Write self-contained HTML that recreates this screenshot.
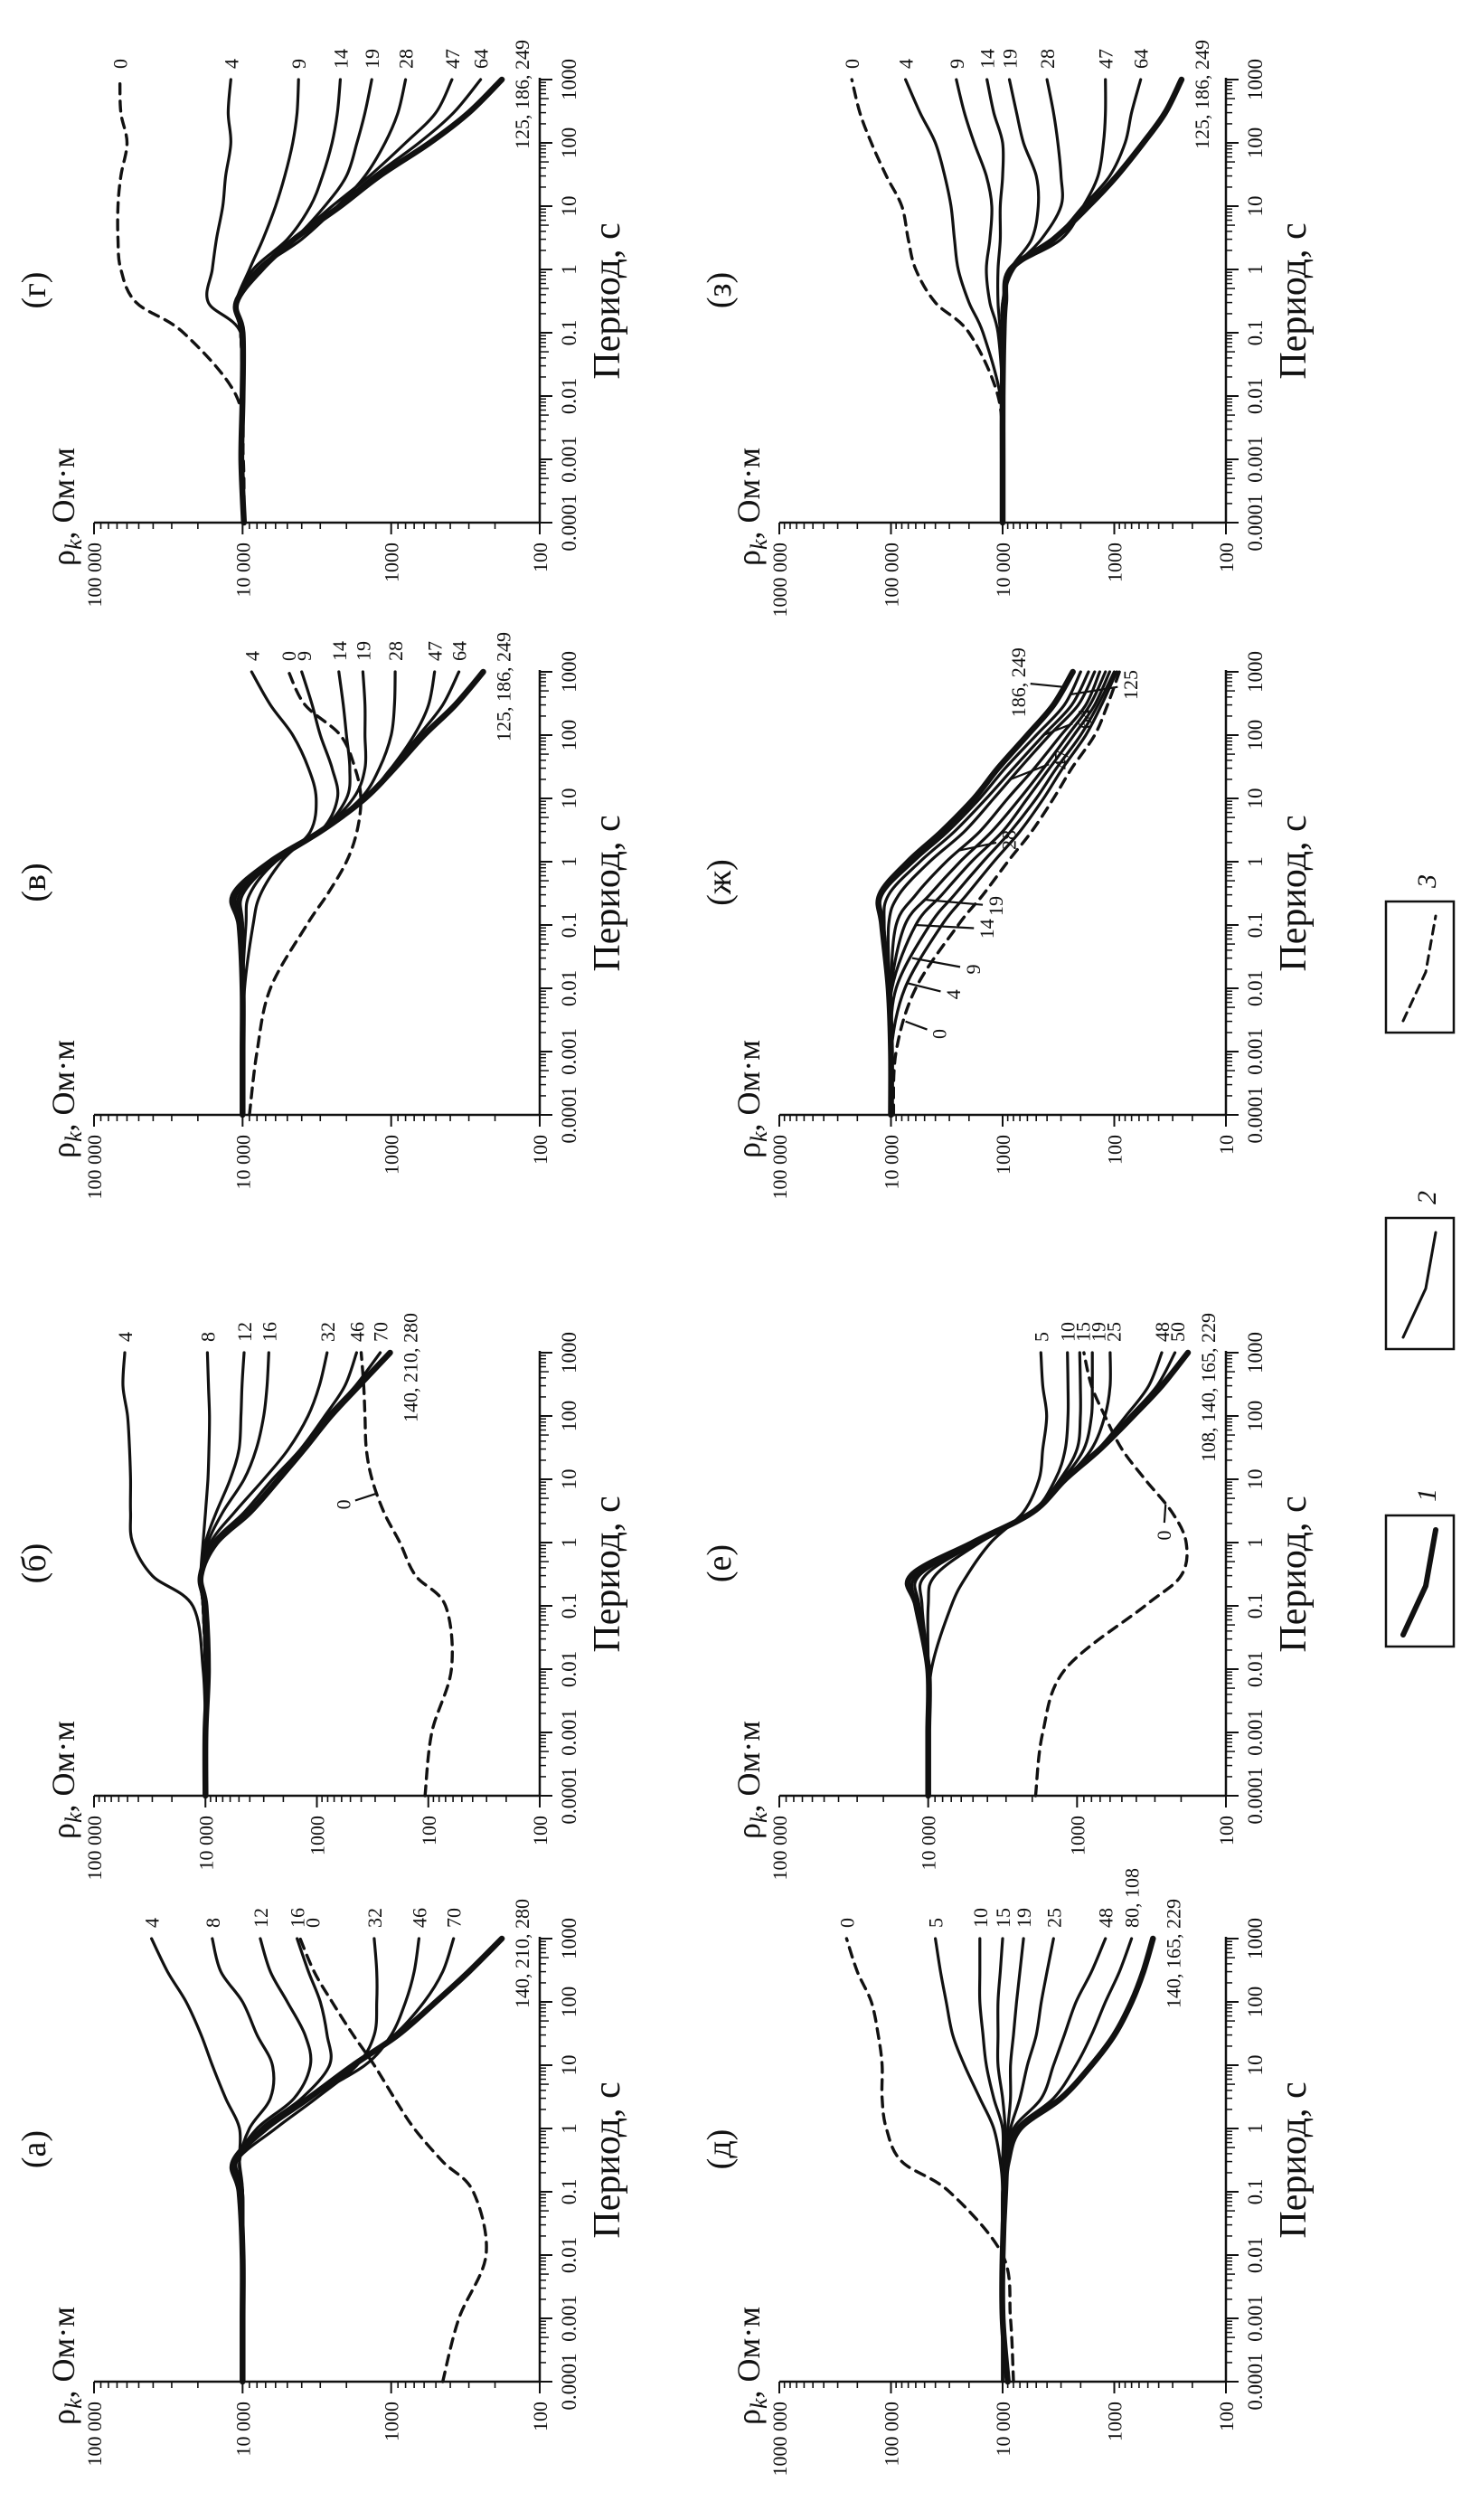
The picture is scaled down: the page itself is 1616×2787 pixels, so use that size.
<!DOCTYPE html>
<html><head><meta charset="utf-8"><title>Кривые кажущегося сопротивления</title>
<style>
html,body{margin:0;padding:0;background:#fff;}
svg{display:block;}
text{font-family:"Liberation Serif",serif;fill:#111;}
</style></head>
<body>
<svg id="fig" xmlns="http://www.w3.org/2000/svg" width="1616" height="2787" viewBox="0 0 1616 2787">
<rect x="0" y="0" width="1616" height="2787" fill="#fff"/>
<g id="land" transform="translate(0,2787) rotate(-90)"></g>
</svg>
<script>
// shared period grid (s)
const periods = [1e-4,1e-3,1e-2,0.1,0.3,1,3,10,30,100,300,1000];

// ---- panel (а)
const labelsA = ['4','8','12','16','0','32','46','70','140, 210, 280'];
const valuesA = [
 [10000,10000,10000,10000,10500,10500,13000,16000,19000,24000,32000,41000],
 [10000,10000,10000,10000,10500,9000,6500,6300,8000,10000,14000,16000],
 [10000,10000,10000,10000,11000,8000,4500,3500,3800,5000,6500,7600],
 [10000,10000,10000,10000,11000,7500,4000,2600,2700,3000,3600,4300],
 [450,350,230,280,450,700,950,1300,1800,2500,3300,4100],
 [10000,10000,10000,10000,11000,6000,3200,1700,1300,1250,1250,1300],
 [10000,10000,10000,10500,11500,7000,3600,1500,1000,800,700,650],
 [10000,10000,10000,10500,11500,7000,3600,1800,950,600,450,380],
 [10000,10000,10000,10500,11500,7000,3600,1800,900,500,300,180]];
// ---- panel (б)
const labelsB = ['4','8','12','16','32','46','70','0','140, 210, 280'];
const valuesB = [
 [10000,10000,10500,13000,30000,45000,47000,47000,48000,50000,55000,53000],
 [10000,10000,10000,10500,11000,10500,10000,9500,9300,9200,9400,9600],
 [10000,10000,10000,10500,11000,10000,8000,6000,5000,4800,4700,4500],
 [10000,10000,10000,10500,11000,9500,7000,4500,3500,3000,2800,2700],
 [10000,10000,10000,10500,11000,9000,5500,3000,1800,1200,950,810],
 [10000,10000,10000,10500,11000,8500,4500,2500,1400,850,560,440],
 [10000,10000,10000,10500,11000,8000,4200,2300,1350,800,450,270],
 [107,93,62,70,130,180,250,320,360,370,380,400],
 [10000,10000,9500,10000,11000,8000,4000,2200,1300,750,420,220]];
// ---- panel (в)
const labelsV = ['4','0','9','14','19','28','47','64','125, 186, 249'];
const valuesV = [
 [10000,10000,9700,8500,7600,5500,3500,3200,3600,4600,6500,8700],
 [9000,8000,6500,3700,2700,2000,1700,1600,1750,2200,3800,4900],
 [10000,10000,10000,9500,9000,6000,3000,2300,2500,3000,3400,4000],
 [10000,10000,10000,10000,10000,6200,3000,2000,1900,2000,2100,2250],
 [10000,10000,10000,10000,10500,6300,3000,1800,1500,1500,1500,1550],
 [10000,10000,10000,10000,11000,6400,3000,1600,1200,1000,950,940],
 [10000,10000,10000,10500,11500,6500,3000,1500,1000,700,560,510],
 [10000,10000,10000,10500,11500,6500,3000,1500,1000,650,450,350],
 [10000,10000,10000,10500,11500,6500,3000,1500,950,600,370,240]];
// ---- panel (г)
const labelsG = ['0','4','9','14','19','28','47','64','125, 186, 249'];
const valuesG = [
 [9800,9900,11000,25000,52000,66000,69000,69000,66000,60000,66000,67000],
 [9800,10000,10000,10300,17000,16000,15000,13600,13000,12000,12500,12000],
 [9800,10000,10000,10300,11000,9000,7300,6000,5200,4600,4300,4200],
 [9800,10000,10000,10300,11000,8500,5000,3500,2900,2500,2300,2200],
 [9800,10000,10000,10300,11000,8000,4500,2800,2000,1700,1500,1350],
 [9800,10000,10000,10300,11000,7800,4000,2300,1500,1100,900,800],
 [9800,10000,10000,10300,11000,7500,4500,2500,1400,800,500,390],
 [9800,10000,10000,10300,11000,7500,4500,2300,1300,650,380,250],
 [9800,10200,10000,10000,11000,7500,4500,2200,1200,550,300,180]];
// ---- panel (д)
const labelsD = ['0','5','10','15','19','25','48','80, 108','140, 165, 229'];
const valuesD = [
 [8000,8500,10000,30000,80000,110000,120000,120000,130000,150000,200000,250000],
 [10000,10000,10000,10000,10500,12000,16000,22000,28000,32000,36000,40000],
 [10000,10000,10000,10000,10000,10000,12000,14000,15000,16000,16000,16000],
 [10000,10000,10000,10000,9500,9500,10000,11000,11000,11000,10500,10000],
 [10000,10000,10000,10000,9500,9000,8500,8500,8000,7500,7000,6500],
 [10000,10000,10000,10000,9500,8500,7000,6000,5000,4500,4000,3500],
 [10000,10000,10000,10000,9500,8000,4500,3500,2800,2200,1600,1200],
 [10000,10000,10000,9500,9000,7500,3500,2200,1600,1200,900,700],
 [9000,10000,10000,9500,9000,7000,3000,1600,1000,700,550,450]];
// ---- panel (е)
const labelsE = ['5','10','15','19','25','48','50','0','108, 140, 165, 229'];
const valuesE = [
 [10000,10000,9500,7000,5500,3800,2300,1800,1700,1600,1700,1750],
 [10000,10000,10000,10000,9000,4500,2000,1400,1200,1150,1150,1160],
 [10000,10000,10000,11000,10500,4700,2000,1300,1000,950,950,960],
 [10000,10000,10000,11500,11500,4800,2000,1250,900,800,790,790],
 [10000,10000,10000,12000,12000,4900,2000,1200,800,650,600,600],
 [10000,10000,10000,12000,13000,5000,2000,1200,720,470,330,270],
 [10000,10000,10000,12000,13000,5000,2000,1200,710,440,290,220],
 [1900,1700,1200,350,200,185,230,350,500,650,800,900],
 [10000,10000,10000,12000,13000,5000,2000,1200,700,420,270,180]];
// ---- panel (ж)
const labelsZh = ['0','4','9','14','19','28','47','64','125','186, 249'];
const valuesZh = [
 [9500,9000,6000,2500,1500,900,550,350,240,150,115,90],
 [10000,10000,7500,3500,2100,1200,700,430,290,180,130,95],
 [10000,10000,9000,4500,2700,1500,850,500,330,200,140,100],
 [10000,10000,9800,6000,3500,1900,1000,600,380,230,150,110],
 [10000,10000,10000,7500,4500,2400,1250,700,430,260,165,120],
 [10000,10000,10000,9000,6000,3200,1600,900,520,300,180,135],
 [10000,10000,10300,10500,8500,4500,2200,1200,700,380,210,150],
 [10000,10000,10500,11500,10500,5500,2700,1400,800,430,240,170],
 [10000,10000,10500,12000,12000,6300,3100,1600,950,500,280,200],
 [10000,10000,10500,12000,12500,7000,3500,1800,1100,600,350,235]];
// ---- panel (з)
const labelsZ = ['0','4','9','14','19','28','47','64','125, 186, 249'];
const valuesZ = [
 [10000,10000,11000,20000,40000,60000,70000,80000,110000,150000,190000,224000],
 [10000,10000,10500,15000,20000,25000,27000,29000,33000,40000,55000,74000],
 [10000,10000,10000,11000,13000,14000,13000,12500,14000,18000,22000,26000],
 [10000,10000,10000,10500,11000,11000,10500,10500,10000,10000,12000,13800],
 [10000,10000,10000,10000,10000,8500,5500,4800,5000,6500,7500,8700],
 [10000,10000,10000,10000,10000,8000,4500,3000,3000,3200,3500,4000],
 [10000,10000,10000,9800,9500,8500,3000,1900,1400,1250,1200,1200],
 [10000,10000,10000,9800,9500,8500,3500,1900,1100,800,700,580],
 [10000,10000,10000,9800,9500,8500,3500,1700,950,550,350,250]];

// leader labels: [label, textPeriod, textRho, targetPeriod]
const leadersB = [['0',4,500,6]];
const leadersE = [['0',1.3,235,4]];
const leadersZh = [['0',0.0019,3200,0.003],['4',0.008,2400,0.012],['9',0.02,1600,0.03],['14',0.087,1200,0.1],['19',0.2,1000,0.25],['28',2.2,760,1.5],['47',41,260,20],['64',180,160,100],['125',620,62,437],['186, 249',680,630,575]];

const NS = 'http://www.w3.org/2000/svg';
const root = document.getElementById('land');
const LEFT = {top:104, bot:597}, RIGHT = {top:862, bot:1356};
const DEC = 70;

function el(tag, parent, attrs){
  const e = document.createElementNS(NS, tag);
  for (const k in attrs) e.setAttribute(k, attrs[k]);
  parent.appendChild(e);
  return e;
}
function interp(vals, t){
  const lt = Math.log10(t);
  for (let i=0;i<periods.length-1;i++){
    const a=Math.log10(periods[i]), b=Math.log10(periods[i+1]);
    if (lt>=a && lt<=b){
      const f=(lt-a)/(b-a);
      return Math.pow(10, Math.log10(vals[i])*(1-f)+Math.log10(vals[i+1])*f);
    }
  }
  return vals[vals.length-1];
}
function fmtRho(e, p){
  if (p.botOverride && e===p.botE) return p.botOverride;
  return ({6:'1000 000',5:'100 000',4:'10 000',3:'1000',2:'100',1:'10'})[e];
}

function drawPanel(p){
  const g = el('g', root, {});
  
  
  const col = p.col, X0 = p.X0, X1 = X0 + 7*DEC;
  const dpx = (col.bot - col.top)/(p.topE - p.botE);
  const xT = t => X0 + (Math.log10(t)+4)*DEC;
  const yR = r => col.top + (p.topE - Math.log10(r))*dpx;

  const ya = el('line', g, {x1:X0,y1:col.top,x2:X0,y2:col.bot,stroke:'#111','stroke-width':2.5});
  
  
  const xa = el('line', g, {x1:X0,y1:col.bot,x2:X1+2,y2:col.bot,stroke:'#111','stroke-width':2.5});
  
  
  for (let e=p.botE; e<=p.topE; e++){
    const y = yR(Math.pow(10,e));
    const tk = el('line', g, {x1:X0-13,y1:y,x2:X0,y2:y,stroke:'#111','stroke-width':2});
    
    
    const tl = el('text', g, {x:X0-22,y:y+8,'font-size':22,'text-anchor':'end'});
    tl.textContent = fmtRho(e, p);
    
    
    if (e<p.topE){
      for (let m=2;m<=9;m++){
        const ym = yR(m*Math.pow(10,e));
        const mt = el('line', g, {x1:X0-7,y1:ym,x2:X0,y2:ym,stroke:'#111','stroke-width':1.6});
        
        
      }
    }
  }
  const plabels = ['0.0001','0.001','0.01','0.1','1','10','100','1000'];
  for (let d=0; d<=7; d++){
    const t = Math.pow(10, d-4), x = xT(t);
    const tk = el('line', g, {x1:x,y1:col.bot,x2:x,y2:col.bot+14,stroke:'#111','stroke-width':2});
    
    
    const tl = el('text', g, {x:x,y:col.bot+40,'font-size':23,'text-anchor':'middle'});
    tl.textContent = plabels[d];
    
    
    if (d<7){
      for (let m=2;m<=9;m++){
        const xm = xT(m*t);
        const mt = el('line', g, {x1:xm,y1:col.bot,x2:xm,y2:col.bot+(m===5?10:7),stroke:'#111','stroke-width':1.5});
        
        
      }
    }
  }
  const xt = el('text', g, {x:X0+245,y:col.bot+88,'font-size':42,'text-anchor':'middle'});
  xt.textContent = 'Период, с';
  
  
  const yt = el('text', g, {x:X0-48,y:col.top-22,'font-size':36});
  
  
  const s1 = el('tspan', yt, {}); s1.textContent = 'ρ';
  const s2 = el('tspan', yt, {'font-style':'italic','font-size':26,dy:8}); s2.textContent = 'k';
  const s3 = el('tspan', yt, {dy:-8}); s3.textContent = ', Ом·м';
  const pl = el('text', g, {x:X0+257,y:col.top-54,'font-size':38,'text-anchor':'middle'});
  pl.textContent = '(' + p.letter + ')';
  
  

  const leaderSet = (p.leaders||[]).map(l=>l[0]);
  const ends = [];
  p.labels.forEach((lab, i) => {
    const vals = p.values[i];
    const pts = periods.map((t,k)=>[xT(t), yR(vals[k])]);
    let d = 'M' + pts[0][0].toFixed(1) + ' ' + pts[0][1].toFixed(1);
    for (let k=0;k<pts.length-1;k++){
      const p0 = pts[Math.max(0,k-1)], p1 = pts[k], p2 = pts[k+1], p3 = pts[Math.min(pts.length-1,k+2)];
      const c1 = [p1[0]+(p2[0]-p0[0])/6, p1[1]+(p2[1]-p0[1])/6];
      const c2 = [p2[0]-(p3[0]-p1[0])/6, p2[1]-(p3[1]-p1[1])/6];
      d += ' C' + c1[0].toFixed(1)+' '+c1[1].toFixed(1)+' '+c2[0].toFixed(1)+' '+c2[1].toFixed(1)+' '+p2[0].toFixed(1)+' '+p2[1].toFixed(1);
    }
    const isDash = lab === '0';
    const isThick = lab.indexOf(',')>=0 && lab !== '80, 108';
    const path = el('path', g, {d:d, fill:'none', stroke:'#111','stroke-linejoin':'round','stroke-linecap':'round',
      'stroke-width': isThick ? 6.5 : (isDash ? 3.4 : 3.2)});
    if (isDash) path.setAttribute('stroke-dasharray','11 8');
    
    
    if (leaderSet.indexOf(lab) < 0){
      ends.push({lab:lab, y:pts[pts.length-1][1], thick:isThick});
    }
  });
  const singles = ends.filter(e=>!e.thick).sort((a,b)=>a.y-b.y);
  for (let k=1;k<singles.length;k++){
    if (singles[k].y - singles[k-1].y < 17) singles[k].y = singles[k-1].y + 17;
  }
  singles.forEach(e=>{
    const t = el('text', g, {x:X1+12,y:e.y+8,'font-size':22});
    t.textContent = e.lab;
    
    
  });
  ends.filter(e=>e.thick).forEach(e=>{
    const t = el('text', g, {x:X1+44,y:Math.min(e.y+30, col.bot-8),'font-size':22,'text-anchor':'end'});
    t.textContent = e.lab;
    
    
  });
  (p.leaders||[]).forEach(l=>{
    const idx = p.labels.indexOf(l[0]);
    const tx = xT(l[1]), ty = yR(l[2]);
    const gx = xT(l[3]), gy = yR(interp(p.values[idx], l[3]));
    const dx = gx-tx, dy = gy-(ty-8), len = Math.hypot(dx,dy) || 1;
    const ln = el('line', g, {x1:tx+dx/len*14, y1:ty-8+dy/len*14, x2:gx, y2:gy, stroke:'#111','stroke-width':2.2});
    
    
    const t = el('text', g, {x:tx,y:ty,'font-size':22,'text-anchor':'middle'});
    t.textContent = l[0];
    
    
  });
}

drawPanel({key:'a',letter:'а',col:LEFT,X0:153,topE:5,botE:2,labels:labelsA,values:valuesA});
drawPanel({key:'b',letter:'б',col:LEFT,X0:801,topE:5,botE:1,botOverride:'100',labels:labelsB,values:valuesB,leaders:leadersB});
drawPanel({key:'v',letter:'в',col:LEFT,X0:1554,topE:5,botE:2,labels:labelsV,values:valuesV});
drawPanel({key:'g',letter:'г',col:LEFT,X0:2209,topE:5,botE:2,labels:labelsG,values:valuesG});
drawPanel({key:'d',letter:'д',col:RIGHT,X0:153,topE:6,botE:2,labels:labelsD,values:valuesD});
drawPanel({key:'e',letter:'е',col:RIGHT,X0:801,topE:5,botE:2,labels:labelsE,values:valuesE,leaders:leadersE});
drawPanel({key:'zh',letter:'ж',col:RIGHT,X0:1554,topE:5,botE:1,labels:labelsZh,values:valuesZh,leaders:leadersZh});
drawPanel({key:'z',letter:'з',col:RIGHT,X0:2209,topE:6,botE:2,labels:labelsZ,values:valuesZ});

const legendX = [966, 1295, 1645];
const legendNames = ['1','2','3'];
legendNames.forEach((n,i)=>{
  const Xb = legendX[i];
  const g = el('g', root, {});
  
  
  const r = el('rect', g, {x:Xb,y:1533,width:145,height:75,fill:'#fff',stroke:'#111','stroke-width':2.5});
  
  
  const pl = el('polyline', g, {points:(Xb+13)+',1552 '+(Xb+67)+',1577 '+(Xb+129)+',1588',fill:'none',stroke:'#111',
    'stroke-width': i===0 ? 6 : 3, 'stroke-linecap':'round'});
  if (i===2) pl.setAttribute('stroke-dasharray','10 7');
  
  
  const t = el('text', g, {x:Xb+160,y:1588,'font-size':30,'font-style':'italic'});
  t.textContent = n;
  
  
});
</script>
</body></html>
